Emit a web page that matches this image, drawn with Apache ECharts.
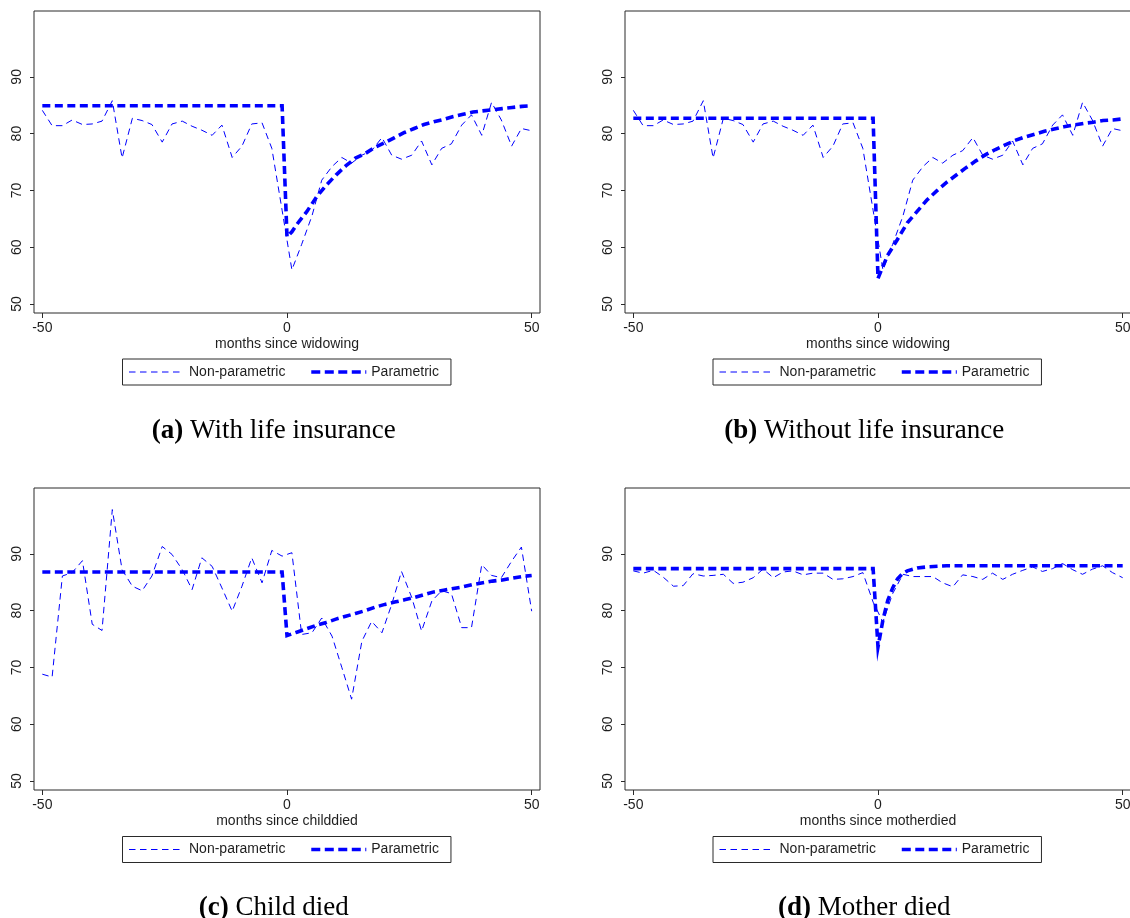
<!DOCTYPE html>
<html>
<head>
<meta charset="utf-8">
<script src="https://cdn.jsdelivr.net/npm/echarts@6/dist/echarts.min.js"></script>
<style>
  html, body { margin: 0; padding: 0; background: #fff; }
  #chart { width: 1130px; height: 918px; }
</style>
</head>
<body>
<div id="chart"></div>
<script>
// Months at which the binned (non-parametric) averages are plotted
const npMonths = [-50, -48, -45.9, -43.9, -41.8, -39.8, -37.8, -35.7, -33.7, -31.6, -29.6, -27.6, -25.5,
  -23.5, -21.4, -19.4, -17.4, -15.3, -13.3, -11.2, -9.2, -7.2, -5.1, -3.1, -1,
  1, 3, 5.1, 7.1, 9.2, 11.2, 13.2, 15.3, 17.3, 19.4, 21.4, 23.4, 25.5, 27.5, 29.6, 31.6,
  33.6, 35.7, 37.7, 39.8, 41.8, 43.8, 45.9, 47.9, 50];

// Non-parametric averages around each event
const npWidowing = [84.1, 81.4, 81.4, 82.4, 81.6, 81.7, 82.2, 85.8, 75.7, 82.7, 82.3, 81.6, 78.5,
  81.7, 82.2, 81.3, 80.6, 79.7, 81.5, 75.8, 77.8, 81.7, 81.9, 77.4, 66.5,
  56.0, 60.5, 65.5, 71.8, 74.2, 75.8, 74.8, 76.2, 77.0, 79.3, 76.2, 75.5, 76.2, 78.7, 74.5, 77.4,
  78.2, 81.5, 83.3, 79.7, 85.5, 82.4, 77.8, 80.9, 80.5];
const npChildDied = [68.8, 68.3, 86.1, 86.7, 88.8, 77.6, 76.5, 97.8, 87.2, 84.3, 83.5, 86.1, 91.3,
  89.9, 87.2, 83.7, 89.3, 87.8, 84.0, 79.9, 84.3, 89.3, 84.9, 90.6, 89.6,
  90.2, 75.8, 76.1, 78.7, 75.5, 70.0, 64.4, 74.6, 78.1, 76.1, 81.1, 86.9, 82.3, 76.4, 81.7, 83.5,
  83.0, 77.0, 77.0, 88.1, 86.2, 85.8, 88.7, 91.2, 79.9];
const npMotherDied = [87.0, 86.6, 87.1, 85.9, 84.3, 84.4, 86.5, 86.1, 86.2, 86.4, 84.8, 85.0, 85.8,
  87.3, 85.8, 86.8, 87.0, 86.3, 86.6, 86.6, 85.5, 85.6, 86.0, 86.7, 81.5,
  78.0, 83.0, 86.4, 86.0, 86.0, 86.0, 84.9, 84.2, 86.3, 86.0, 85.5, 86.6, 85.5, 86.4, 87.1, 87.7,
  86.9, 87.4, 88.3, 87.2, 86.4, 87.3, 87.9, 86.7, 85.8];

// Parametric fits
const parMonths = [-50, -1, 0, 1, 2, 4, 6, 8, 10, 12, 14, 16, 18, 20, 22, 24, 26, 28, 30, 32, 34,
  36, 38, 40, 42, 44, 46, 48, 50];
const parWithInsurance = [84.9, 84.9, 61.8, 62.7, 64.0, 66.2, 68.8, 70.9, 72.7, 74.3, 75.7, 76.5,
  77.6, 78.4, 79.3, 80.2, 80.9, 81.6, 82.1, 82.5, 83.0, 83.4, 83.8, 84.0, 84.2, 84.4, 84.6, 84.8, 84.9];
const parWithoutInsurance = [82.7, 82.7, 54.5, 56.6, 58.6, 61.4, 64.3, 66.3, 68.3, 69.9, 71.4, 72.7,
  74.0, 75.2, 76.3, 77.2, 78.0, 78.8, 79.4, 79.9, 80.4, 80.8, 81.2, 81.5, 81.8, 82.0, 82.3, 82.4, 82.6];
const parChildDied = [86.8, 86.8, 75.6, 75.9, 76.2, 76.8, 77.4, 77.9, 78.5, 79.0, 79.5, 80.0,
  80.6, 81.1, 81.5, 81.9, 82.3, 82.8, 83.3, 83.6, 83.9, 84.2, 84.6, 84.9, 85.2, 85.4, 85.7, 86.0, 86.2];
const parMonthsMother = [-50, -1, 0, 1, 2, 3, 4, 5, 6, 8, 10, 14, 20, 50];
const parMotherDied = [87.4, 87.4, 73.6, 78.3, 81.8, 84.0, 85.6, 86.5, 87.0, 87.5, 87.7, 87.9, 87.9, 87.9];

// Axis ticks and labels
const xTicks = [-50, 0, 50];
const yTicks = [50, 60, 70, 80, 90];
const xTitles = ['months since widowing', 'months since widowing', 'months since childdied', 'months since motherdied'];
const captionTags = ['(a)', '(b)', '(c)', '(d)'];
const captionTexts = ['With life insurance', 'Without life insurance', 'Child died', 'Mother died'];
const legendNames = ['Non-parametric', 'Parametric'];

const panels = [
  { np: npWidowing, pm: parMonths, pv: parWithInsurance },
  { np: npWidowing, pm: parMonths, pv: parWithoutInsurance },
  { np: npChildDied, pm: parMonths, pv: parChildDied },
  { np: npMotherDied, pm: parMonthsMother, pv: parMotherDied }
];

const zip = (xs, ys) => xs.map((x, i) => [x, ys[i]]);

// Line styles of the two estimates
const blue = '#0000ff';
const thinStyle = { color: blue, width: 1, type: [6.5, 4.5] };
const thickStyle = { color: blue, width: 3.6, type: [8, 4.5], cap: 'butt', join: 'miter' };

// Panel placement
const cols = [{ gridLeft: 34, legendLeft: 122.5, capX: 273.8 }, { gridLeft: 625, legendLeft: 713, capX: 864.2 }];
const rows = [{ gridTop: 11, legendTop: 359, capY: 431 }, { gridTop: 488, legendTop: 836.5, capY: 908 }];

const textColor = '#1e1e1e';
const frameColor = '#2a2a2a';
const sans = 'Liberation Sans, Arial, Helvetica, sans-serif';
const serif = 'Liberation Serif, Times New Roman, serif';

const grid = [], xAxis = [], yAxis = [], series = [], legend = [], graphic = [];

panels.forEach((p, i) => {
  const c = cols[i % 2], r = rows[Math.floor(i / 2)];
  grid.push({
    left: c.gridLeft, top: r.gridTop, width: 506, height: 302,
    outerBoundsMode: 'none', containLabel: false,
    show: true, borderColor: frameColor, borderWidth: 1, backgroundColor: '#fff'
  });
  xAxis.push({
    type: 'value', gridIndex: i, min: -51.7, max: 51.7, position: 'bottom',
    name: xTitles[i], nameLocation: 'middle', nameGap: 24,
    nameTextStyle: { color: textColor, fontSize: 14, fontFamily: sans },
    axisLine: { show: false, onZero: false },
    axisTick: { show: true, length: 5, customValues: xTicks, lineStyle: { color: frameColor } },
    axisLabel: { customValues: xTicks, margin: 8, color: textColor, fontSize: 14, fontFamily: sans },
    splitLine: { show: false }
  });
  yAxis.push({
    type: 'value', gridIndex: i, min: 48.4, max: 101.6, position: 'left',
    axisLine: { show: false, onZero: false },
    axisTick: { show: true, length: 4, customValues: yTicks, lineStyle: { color: frameColor } },
    axisLabel: {
      customValues: yTicks, rotate: 90, margin: 10, align: 'center', verticalAlign: 'bottom',
      color: textColor, fontSize: 14, fontFamily: sans
    },
    splitLine: { show: false }
  });
  series.push({
    name: legendNames[0], type: 'line', xAxisIndex: i, yAxisIndex: i,
    data: zip(npMonths, p.np), symbol: 'none', animation: false,
    lineStyle: thinStyle, itemStyle: { color: blue }
  });
  series.push({
    name: legendNames[1], type: 'line', xAxisIndex: i, yAxisIndex: i,
    data: zip(p.pm, p.pv), symbol: 'none', animation: false,
    lineStyle: thickStyle, itemStyle: { color: blue }
  });
  legend.push({
    left: c.legendLeft, top: r.legendTop, orient: 'horizontal',
    data: [
      { name: legendNames[0], lineStyle: { color: blue, width: 1, type: [6.5, 4.5] } },
      { name: legendNames[1], lineStyle: { color: blue, width: 3.6, type: [9, 4.5] } }
    ],
    selectedMode: false,
    itemWidth: 55, itemHeight: 14, itemGap: 24,
    padding: [6, 12, 6, 6],
    borderColor: frameColor, borderWidth: 1,
    itemStyle: { opacity: 0 },
    textStyle: { color: textColor, fontSize: 14, fontFamily: sans }
  });
  graphic.push({
    type: 'text', x: c.capX, y: r.capY,
    style: {
      text: '{t|' + captionTags[i] + '} {c|' + captionTexts[i] + '}',
      align: 'center', verticalAlign: 'middle',
      rich: {
        t: { fontFamily: serif, fontSize: 27, fontWeight: 'bold', fill: '#000' },
        c: { fontFamily: serif, fontSize: 27, fill: '#000' }
      },
      font: '27px ' + serif, fill: '#000'
    }
  });
});

const chart = echarts.init(document.getElementById('chart'), null, { renderer: 'canvas' });
chart.setOption({
  animation: false,
  backgroundColor: '#fff',
  grid, xAxis, yAxis, series, legend, graphic
});
</script>
</body>
</html>
